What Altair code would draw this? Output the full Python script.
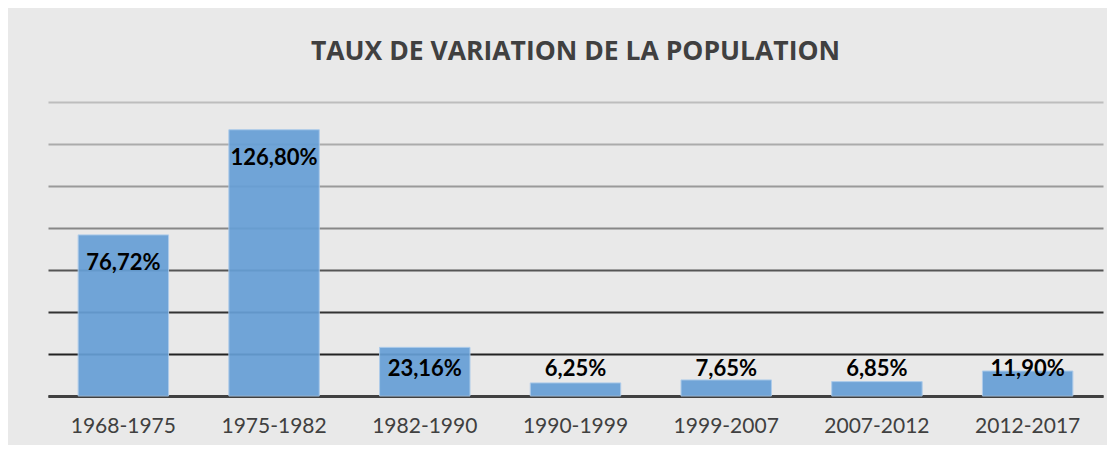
import altair as alt
import pandas as pd

periods = ["1968-1975", "1975-1982", "1982-1990", "1990-1999", "1999-2007", "2007-2012", "2012-2017"]
values = [76.72, 126.80, 23.16, 6.25, 7.65, 6.85, 11.90]
labels = ["76,72%", "126,80%", "23,16%", "6,25%", "7,65%", "6,85%", "11,90%"]
grid_values = [0, 20, 40, 60, 80, 100, 120, 140]
grid_colors = ["#222222", "#222222", "#333333", "#555555", "#878787", "#9a9a9a", "#ababab", "#bdbdbd"]

df = pd.DataFrame({"periode": periods, "taux": values, "label": labels})

grid_cond = {
    "condition": [{"test": f"datum.value == {v}", "value": c} for v, c in zip(grid_values, grid_colors)],
    "value": "#888888",
}

x_enc = alt.X("periode:N", sort=periods, title=None,
              scale=alt.Scale(paddingInner=0.4, paddingOuter=0.2),
              axis=alt.Axis(labelAngle=0, labelFont="Lato", labelFontSize=21,
                            labelColor="#404040", labelPadding=19, ticks=False,
                            domainColor="#404040", domainWidth=3, grid=False))

y_scale = alt.Scale(domain=[0, 140], nice=False)

bars = alt.Chart(df).mark_bar(color="#669fd6", opacity=0.92, stroke="#a9c9ea", strokeWidth=1).encode(
    x=x_enc,
    y=alt.Y("taux:Q", scale=y_scale, title=None,
            axis=alt.Axis(values=grid_values, labels=False, ticks=False, domain=False,
                          grid=True, gridWidth=2, gridColor=grid_cond)),
)

text = alt.Chart(df).transform_calculate(
    pos="max(datum.taux - 13.5, 12.8)"
).mark_text(font="Lato", fontSize=22, fontWeight="bold", color="#000000", baseline="middle").encode(
    x=alt.X("periode:N", sort=periods),
    y=alt.Y("pos:Q", scale=y_scale),
    text="label:N",
)

chart = alt.layer(bars, text).properties(
    width=1055, height=294,
    title=alt.TitleParams("TAUX DE VARIATION DE LA POPULATION", font="Open Sans", fontSize=26.5,
                          fontWeight="bold", color="#404040", anchor="middle",
                          baseline="bottom", offset=10),
    background="#e9e9e9",
    padding={"left": 40, "top": 94, "right": 4, "bottom": 49},
    autosize=alt.AutoSizeParams(type="none"),
).configure_view(stroke=None)

chart.save("out.html", embed_options={"renderer": "svg", "actions": False})
